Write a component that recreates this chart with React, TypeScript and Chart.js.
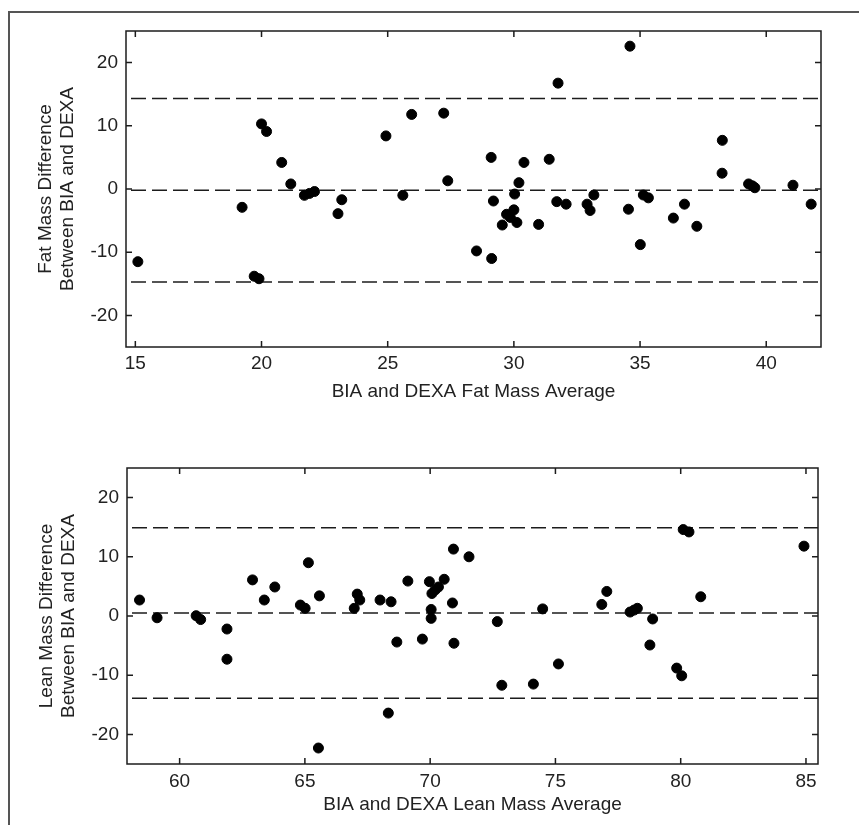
import React, { useEffect, useRef } from "react";
import { Chart, registerables } from "chart.js";

Chart.register(...registerables);

const FONT_FAMILY = "'Liberation Sans', Arial, Helvetica, sans-serif";

// ---------- Fat mass panel data ----------
const fatAverage = [
  15.1, 19.23, 19.71, 19.9, 20.0, 20.2, 20.8, 21.16, 21.7, 21.9, 22.1, 23.03, 23.18,
  24.93, 25.6, 25.95, 27.22, 27.38, 28.52, 29.12, 29.1, 29.19, 29.54, 29.71, 29.86,
  30.0, 30.12, 30.03, 30.2, 30.4, 30.98, 31.4, 31.7, 31.75, 32.07, 32.9, 33.02, 33.17,
  34.54, 34.6, 35.01, 35.13, 35.33, 36.32, 36.76, 37.25, 38.25, 38.26, 39.3, 39.45,
  39.55, 41.06, 41.78,
];
const fatDifference = [
  -11.5, -2.9, -13.8, -14.2, 10.3, 9.1, 4.2, 0.8, -1.0, -0.7, -0.4, -3.9, -1.7,
  8.4, -1.0, 11.8, 12.0, 1.3, -9.8, -11.0, 5.0, -1.9, -5.7, -4.0, -4.5,
  -3.3, -5.3, -0.8, 1.0, 4.2, -5.6, 4.7, -2.0, 16.75, -2.4, -2.4, -3.4, -0.95,
  -3.2, 22.6, -8.8, -0.95, -1.4, -4.6, -2.4, -5.9, 2.5, 7.7, 0.8, 0.5,
  0.2, 0.6, -2.4,
];
const fatLimits = [14.3, -0.2, -14.7];
const fatXRange = [14.63, 42.17];
const fatXTicks = [15, 20, 25, 30, 35, 40];

// ---------- Lean mass panel data ----------
const leanAverage = [
  58.4, 59.1, 60.66, 60.84, 61.89, 61.89, 62.91, 63.38, 63.8, 64.82, 65.01, 65.14,
  65.54, 65.58, 66.97, 67.09, 67.19, 68.0, 68.33, 68.44, 68.67, 69.11, 69.69, 69.97,
  70.07, 70.2, 70.33, 70.56, 70.04, 70.04, 70.89, 70.93, 70.95, 71.55, 72.68, 72.86,
  74.12, 74.49, 75.12, 76.85, 77.05, 77.98, 78.14, 78.27, 78.77, 78.88, 79.84, 80.04,
  80.1, 80.33, 80.8, 84.92,
];
const leanDifference = [
  2.7, -0.3, 0.05, -0.6, -2.2, -7.3, 6.1, 2.7, 4.9, 1.85, 1.3, 9.0,
  -22.3, 3.4, 1.3, 3.7, 2.7, 2.7, -16.4, 2.4, -4.4, 5.9, -3.9, 5.8,
  3.8, 4.4, 4.9, 6.2, 1.1, -0.4, 2.2, 11.3, -4.6, 10.0, -0.95, -11.7,
  -11.5, 1.2, -8.1, 1.95, 4.15, 0.67, 1.0, 1.3, -4.9, -0.5, -8.8, -10.1,
  14.6, 14.2, 3.25, 11.8,
];
const leanLimits = [14.9, 0.5, -13.9];
const leanXRange = [57.9, 85.48];
const leanXTicks = [60, 65, 70, 75, 80, 85];

// ---------- Shared ----------
const diffRange = [-25, 25];
const diffTicks = [-20, -10, 0, 10, 20];

const frameTicksPlugin = {
  id: "frameTicks",
  afterDatasetsDraw(chart: any) {
    const { ctx, chartArea: a, scales } = chart;
    const x = scales.x;
    const y = scales.y;
    ctx.save();
    ctx.strokeStyle = "#1c1c1c";
    ctx.lineWidth = 1.5;
    ctx.strokeRect(a.left, a.top, a.right - a.left, a.bottom - a.top);
    ctx.beginPath();
    const len = 6;
    x.ticks.forEach((t: any) => {
      const px = x.getPixelForValue(t.value);
      ctx.moveTo(px, a.bottom);
      ctx.lineTo(px, a.bottom - len);
      ctx.moveTo(px, a.top);
      ctx.lineTo(px, a.top + len);
    });
    y.ticks.forEach((t: any) => {
      const py = y.getPixelForValue(t.value);
      ctx.moveTo(a.left, py);
      ctx.lineTo(a.left + len, py);
      ctx.moveTo(a.right, py);
      ctx.lineTo(a.right - len, py);
    });
    ctx.stroke();
    ctx.restore();
  },
};

type PanelProps = {
  top: number;
  height: number;
  xs: number[];
  ys: number[];
  limits: number[];
  xRange: number[];
  xTicks: number[];
  xTitle: string;
  yTitle: string[];
  layout: {
    padTop: number;
    padRight: number;
    yWidth: number;
    xHeight: number;
    xTickPad: number;
    yTitlePad: number;
  };
};

function Panel(props: PanelProps) {
  const ref = useRef<HTMLCanvasElement | null>(null);
  useEffect(() => {
    if (!ref.current) return;
    const { xs, ys, limits, xRange, xTicks, xTitle, yTitle, layout } = props;
    const points = xs.map((v, i) => ({ x: v, y: ys[i] }));
    const limitSets = limits.map((v) => ({
      type: "line" as const,
      data: [
        { x: xRange[0], y: v },
        { x: xRange[1], y: v },
      ],
      borderColor: "#1c1c1c",
      borderWidth: 1.5,
      borderDash: [15, 6],
      borderDashOffset: 16,
      pointRadius: 0,
      showLine: true,
      fill: false,
      order: 2,
    }));
    const tickFont = { family: FONT_FAMILY, size: 19 };
    const chart = new Chart(ref.current, {
      type: "scatter",
      data: {
        datasets: [
          {
            type: "scatter",
            data: points,
            pointRadius: 5,
            pointBorderWidth: 1,
            pointBackgroundColor: "#000",
            pointBorderColor: "#000",
            order: 0,
          } as any,
          ...limitSets,
        ],
      },
      options: {
        animation: false,
        responsive: false,
        maintainAspectRatio: false,
        events: [],
        layout: {
          padding: { top: layout.padTop, right: layout.padRight, left: 0, bottom: 0 },
        },
        plugins: {
          legend: { display: false },
          tooltip: { enabled: false },
        },
        scales: {
          x: {
            type: "linear",
            min: xRange[0],
            max: xRange[1],
            afterBuildTicks: (s: any) => {
              s.ticks = xTicks.map((v) => ({ value: v }));
            },
            afterFit: (s: any) => {
              s.height = layout.xHeight;
            },
            grid: { display: false, drawTicks: false },
            border: { display: false },
            ticks: {
              autoSkip: false,
              maxRotation: 0,
              padding: layout.xTickPad,
              color: "#222",
              font: tickFont,
            },
            title: {
              display: true,
              text: xTitle,
              color: "#222",
              font: tickFont,
              padding: { top: 0, bottom: 9 },
            },
          },
          y: {
            type: "linear",
            min: diffRange[0],
            max: diffRange[1],
            afterBuildTicks: (s: any) => {
              s.ticks = diffTicks.map((v) => ({ value: v }));
            },
            afterFit: (s: any) => {
              s.width = layout.yWidth;
            },
            grid: { display: false, drawTicks: false },
            border: { display: false },
            ticks: {
              autoSkip: false,
              padding: 8,
              color: "#222",
              font: tickFont,
            },
            title: {
              display: true,
              text: yTitle,
              color: "#222",
              font: tickFont,
              padding: { top: layout.yTitlePad, bottom: 0 },
            },
          },
        },
      },
      plugins: [frameTicksPlugin],
    } as any);
    return () => chart.destroy();
  }, []);
  return (
    <canvas
      ref={ref}
      width={859}
      height={props.height}
      style={{
        position: "absolute",
        left: 0,
        top: props.top,
        width: 859,
        height: props.height,
        display: "block",
      }}
    />
  );
}

export default function App() {
  return (
    <div
      style={{
        position: "absolute",
        left: 0,
        top: 0,
        width: 859,
        height: 825,
        background: "#fff",
        overflow: "hidden",
      }}
    >
      <Panel
        top={0}
        height={412}
        xs={fatAverage}
        ys={fatDifference}
        limits={fatLimits}
        xRange={fatXRange}
        xTicks={fatXTicks}
        xTitle="BIA and DEXA Fat Mass Average"
        yTitle={["Fat Mass Difference", "Between BIA and DEXA"]}
        layout={{ padTop: 31, padRight: 38, yWidth: 126, xHeight: 65, xTickPad: 5, yTitlePad: 34 }}
      />
      <Panel
        top={412}
        height={413}
        xs={leanAverage}
        ys={leanDifference}
        limits={leanLimits}
        xRange={leanXRange}
        xTicks={leanXTicks}
        xTitle="BIA and DEXA Lean Mass Average"
        yTitle={["Lean Mass Difference", "Between BIA and DEXA"]}
        layout={{ padTop: 56, padRight: 41, yWidth: 127, xHeight: 61, xTickPad: 6, yTitlePad: 35 }}
      />
      <div
        style={{
          position: "absolute",
          left: 8,
          top: 11,
          width: 900,
          height: 900,
          borderLeft: "2px solid #555",
          borderTop: "2px solid #555",
          pointerEvents: "none",
        }}
      />
    </div>
  );
}
